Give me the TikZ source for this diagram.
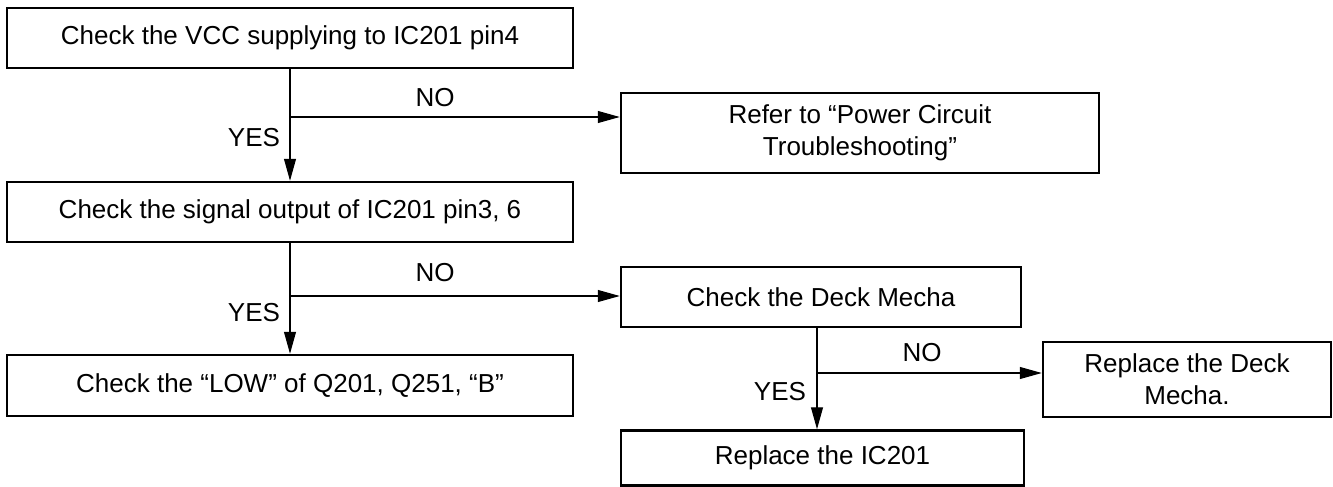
\documentclass[tikz,border=0pt]{standalone}
\usepackage{fontspec}
\setmainfont{Liberation Sans}
\usetikzlibrary{arrows.meta}
\begin{document}
\begin{tikzpicture}[x=1pt,y=-1pt,
  box/.style={draw, line width=2.5pt, inner sep=0pt, align=center,
    font=\fontsize{26}{32}\selectfont},
  lbl/.style={inner sep=0pt, font=\fontsize{26}{30}\selectfont},
  conn/.style={line width=1.1pt, -{Triangle[length=22pt,width=12pt]}},
  plain/.style={line width=1.1pt}]
\useasboundingbox (0,0) rectangle (1333,487);
\node[box, minimum width=566pt, minimum height=60pt] (b1) at (290,38) {Check the VCC supplying to IC201 pin4};
\node[box, minimum width=566pt, minimum height=60pt] (b2) at (290,212) {Check the signal output of IC201 pin3, 6};
\node[box, minimum width=566pt, minimum height=61pt] (b3) at (290,385.5) {Check the “LOW” of Q201, Q251, “B”};
\node[box, minimum width=478pt, minimum height=80pt] (refer) at (860,133) {Refer to “Power Circuit\\Troubleshooting”};
\node[box, minimum width=400pt, minimum height=60pt] (deck) at (821,297) {Check the Deck Mecha};
\node[box, minimum width=288pt, minimum height=75pt] (repdeck) at (1187,379.5) {Replace the Deck\\Mecha.};
\node[box, minimum width=403pt, minimum height=55pt] (ic) at (822.5,458) {Replace the IC201};
% junctions
\coordinate (j1) at (290,117);
\coordinate (j2) at (290,296);
\coordinate (j3) at (817,373);
\draw[conn] (b1.south) -- (b2.north);
\draw[conn] (j1) -- (j1 -| refer.west);
\draw[conn] (b2.south) -- (b3.north);
\draw[conn] (j2) -- (j2 -| deck.west);
\draw[conn] (deck.south -| j3) -- (ic.north -| j3);
\draw[conn] (j3) -- (j3 -| repdeck.west);
% labels
\node[lbl] (no1) at (435,98) {NO};
\node[lbl] (yes1) at (254,138) {YES};
\node[lbl] (no2) at (435,273) {NO};
\node[lbl] (yes2) at (254,313) {YES};
\node[lbl] (no3) at (922,353) {NO};
\node[lbl] (yes3) at (780,392) {YES};
\end{tikzpicture}
\end{document}
